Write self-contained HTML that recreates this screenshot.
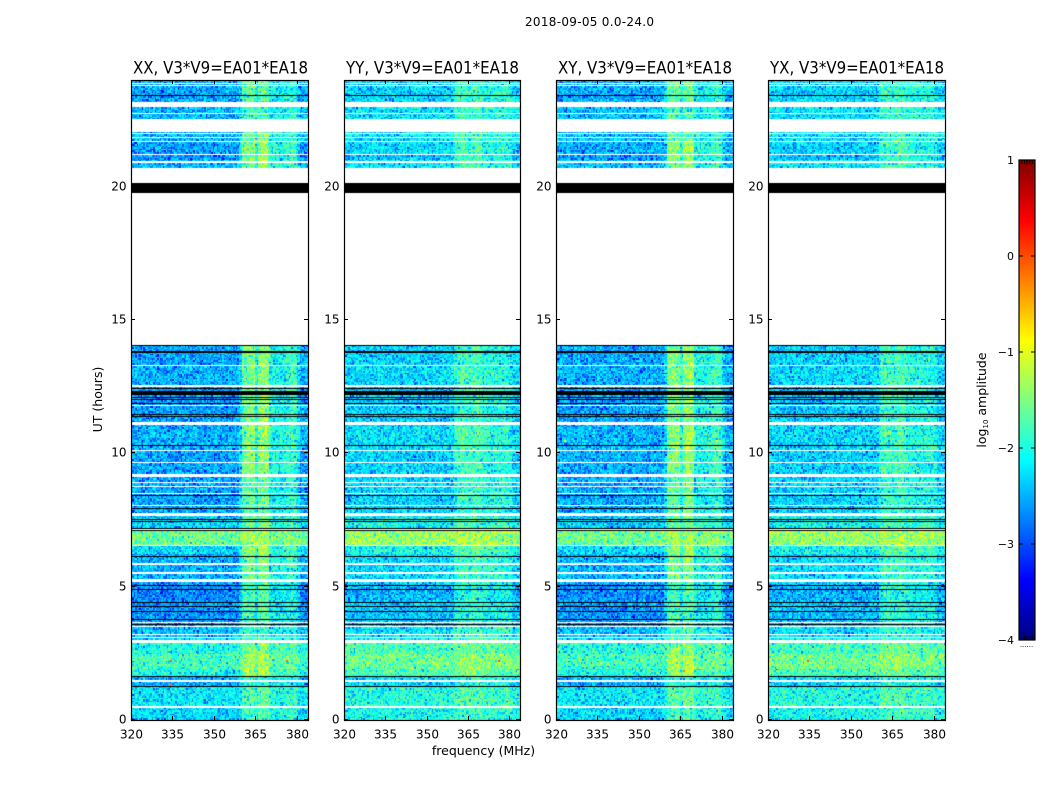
<!DOCTYPE html>
<html lang="en">
<head>
<meta charset="utf-8">
<title>2018-09-05 0.0-24.0</title>
<style>
html,body{margin:0;padding:0;background:#fff;}
#figure{position:relative;width:1050px;height:800px;overflow:hidden;background:#fff;font-family:"DejaVu Sans","Liberation Sans",sans-serif;}
canvas{position:absolute;display:block;}
svg{position:absolute;left:0;top:0;}
text{font-family:"DejaVu Sans","Liberation Sans",sans-serif;fill:#000;}
</style>
</head>
<body>
<div id="figure">
<svg id="overlay" width="1050" height="800" viewBox="0 0 1050 800">
  <text x="589.5" y="26" font-size="12" text-anchor="middle" textLength="129" lengthAdjust="spacing">2018-09-05 0.0-24.0</text>
  <text x="220.5" y="73.5" font-size="16.5" text-anchor="middle" textLength="175" lengthAdjust="spacingAndGlyphs">XX, V3*V9=EA01*EA18</text>
  <text x="432.5" y="73.5" font-size="16.5" text-anchor="middle" textLength="173" lengthAdjust="spacingAndGlyphs">YY, V3*V9=EA01*EA18</text>
  <text x="645" y="73.5" font-size="16.5" text-anchor="middle" textLength="174" lengthAdjust="spacingAndGlyphs">XY, V3*V9=EA01*EA18</text>
  <text x="857" y="73.5" font-size="16.5" text-anchor="middle" textLength="174" lengthAdjust="spacingAndGlyphs">YX, V3*V9=EA01*EA18</text>
  <text transform="translate(102,399.5) rotate(-90)" font-size="12.5" text-anchor="middle">UT (hours)</text>
  <text x="483.5" y="755" font-size="12.5" text-anchor="middle">frequency (MHz)</text>
  <text transform="translate(986,400) rotate(-90)" font-size="12.5" text-anchor="middle">log<tspan font-size="7" dy="2">10</tspan><tspan dy="-2"> amplitude</tspan></text>
  <text x="1026.5" y="647" font-size="7" text-anchor="middle" fill="#555">......</text>
</svg>
</div>
<script>
/* ---- chart data (UT hours, MHz, log10 amplitude) ---- */
const panelNames = ['xx', 'yy', 'xy', 'yx'];
const panelOffsets = [0, 0.24, 0.02, 0.22];
const xTickLabels = [320, 335, 350, 365, 380];
const yTickLabels = [0, 5, 10, 15, 20];
const colorbarTickLabels = [1, 0, -1, -2, -3, -4];

/* time bands: start hour, base level, interference strength */
const bandStarts = [0, 0.53, 1.26, 1.63, 1.9, 2.45, 2.9, 3.1, 3.6, 4.5, 5.05, 5.3, 5.9, 6.25, 6.56, 7.11, 7.55, 7.75, 8.5, 9.2, 10.1, 11.2, 12, 12.6, 13.3, 20.7, 21, 21.25, 21.7, 22.5, 23.2];
const bandLevels = [-2.3, -2.2, -2.5, -2.0, -1.8, -2.0, -2.35, -2.45, -2.65, -2.72, -2.6, -2.5, -2.5, -2.25, -1.6, -2.3, -2.4, -2.55, -2.55, -2.55, -2.5, -2.6, -2.6, -2.5, -2.55, -2.45, -2.65, -2.55, -2.45, -2.45, -2.55];
const bandInterference = [0.6, 0.7, 0.5, 1, 1, 0.9, 0.7, 0.6, 0.7, 0.7, 0.7, 0.85, 0.9, 1, 0.8, 0.8, 0.8, 0.8, 0.8, 0.95, 1, 0.95, 0.95, 0.95, 0.95, 0.95, 1, 1, 0.8, 0.65, 0.8];

/* spectral excess per 1 MHz channel, 320-383 MHz */
const spectrumCross = [0,0,0,0,0,0,0,0,0,0,0,0,0,0,0,0,0,0,0,0,0,0,0,0,0,0,0,0,0,0,0,0,0,0,0,0,0,0,0,0.05,1.1,1.15,1.2,1.25,1.25,0.6,1.25,1.35,1.35,1.3,0.55,0.55,0.5,0.45,0.5,0.55,0.7,0.8,0.85,0.7,0.15,0,0,0];
const spectrumParallel = [0,0,0,0,0,0,0,0,0,0,0,0,0,0,0,0,0,0,0,0,0,0,0,0,0,0,0,0,0,0,0,0,0,0,0,0,0,0,0,0,0.3,0.42,0.55,0.55,0.5,0.35,0.5,0.6,0.6,0.55,0.3,0.25,0.2,0.2,0.2,0.2,0.25,0.25,0.25,0.2,0.05,0,0,0];
const panelSpectra = [spectrumCross, spectrumParallel, spectrumCross, spectrumParallel];

/* unsampled intervals (white), UT hours */
const gapStarts = [0.45,1.44,2.87,2.94,3.08,3.17,3.47,3.62,5.19,5.49,5.83,6.51,7.13,7.64,8.02,8.48,8.72,8.87,9.13,9.64,10.09,11.08,11.78,12.47,12.53,13.27,14.04,20.15,20.87,21.19,21.67,21.83,21.97,22.05,22.71,23.0,23.77,23.84];
const gapEnds = [0.53,1.49,2.92,3.0,3.13,3.22,3.52,3.68,5.29,5.55,5.89,6.56,7.17,7.76,8.06,8.53,8.79,8.93,9.24,9.69,10.14,11.19,11.82,12.53,12.58,13.33,19.75,20.7,20.95,21.24,21.72,21.88,22.0,22.52,22.75,23.19,23.82,23.88];

/* zero-amplitude intervals (black), UT hours */
const zeroStarts = [1.25,1.62,3.57,3.76,4.05,4.25,4.39,4.88,5.03,6.12,7.1,7.17,7.44,7.51,7.91,8.41,10.26,11.36,11.43,11.85,11.99,12.09,12.2,12.41,13.78,14.03,19.75,23.41];
const zeroEnds = [1.29,1.66,3.61,3.8,4.09,4.29,4.43,4.92,5.07,6.16,7.14,7.21,7.48,7.55,7.95,8.45,10.3,11.4,11.47,11.89,12.03,12.13,12.33,12.45,13.82,14.07,20.15,23.45];

/* bright isolated cells */
const hotPanels = [0,0,0,0,0,1,1,1,2,2,2,2,3,3,3];
const hotHours = [7.48,7.48,2.23,2.23,1.3,2.23,7.48,7.48,10.47,10.47,1.85,7.48,2.23,7.48,1.85];
const hotFreqs = [334,349,334,376,334,376,334,368,323,378,366,361,334,350,366];
const hotLevels = [-0.1,-0.1,-0.1,-0.1,-0.2,-0.05,-0.2,-0.2,-0.9,-0.9,-0.3,-0.2,-0.1,-0.4,-0.6];

/* fine-grain texture table: illustrative speckle, not a per-cell reading */
const grainA = [0.22,-0.41,0.08,0.31,-0.63,0.15,-0.09,0.37,-0.24,0.05,0.28,-0.85,0.19,-0.17,0.33,0.02,-0.36,0.26,-0.06,0.12,-0.52,0.39,-0.13,0.07,0.24,-0.71,0.17,-0.28,0.35,0.03,-0.19,0.29,-0.44,0.11,0.21,-0.03,-0.58,0.34,0.09,-0.22,0.14,0.27,-0.95,0.18,-0.11,0.32,-0.31,0.06,0.25,-0.47];
const grainB = [0.11,-0.18,0.23,-0.05,0.16,-0.29,0.07,0.2,-0.12,0.01,-0.34,0.26,0.04,-0.08,0.17,-0.23,0.13,0.28,-0.15,0.09,-0.02,-0.38,0.19,0.06,-0.1,0.24,-0.27];
const grainScale = 0.8;
const interferenceReference = -2.7;

/* ---- layout and scales ---- */
const panelLefts = [131, 344, 556, 768];
const panelRights = [308, 520, 733, 945];
const plotTop = 80;
const plotBottom = 720;
const cellColumns = 128;
const cellRows = 400;
const freqMin = 320, freqMax = 384, hourMin = 0, hourMax = 24;
const cbarLeft = 1019, cbarRight = 1035, cbarTop = 160, cbarBottom = 640;
const levelMin = -4, levelMax = 1;

function xScale(p, f) { return panelLefts[p] + (f - freqMin) / (freqMax - freqMin) * (panelRights[p] - panelLefts[p]); }
function yScale(h) { return plotBottom - (h - hourMin) / (hourMax - hourMin) * (plotBottom - plotTop); }
function cbarScale(v) { return cbarBottom - (v - levelMin) / (levelMax - levelMin) * (cbarBottom - cbarTop); }
function clip(v) { return Math.max(0, Math.min(1, v)); }
function jet(level) {
  const t = clip((level - levelMin) / (levelMax - levelMin));
  const r = clip(1.5 - Math.abs(4 * t - 3));
  const g = clip(1.5 - Math.abs(4 * t - 2));
  const b = clip(1.5 - Math.abs(4 * t - 1));
  return 'rgb(' + Math.round(r * 255) + ',' + Math.round(g * 255) + ',' + Math.round(b * 255) + ')';
}
function bandIndexAt(h) {
  let k = 0;
  for (let i = 0; i < bandStarts.length; i++) { if (bandStarts[i] <= h) k = i; }
  return k;
}
function grainAt(c, r) {
  const mix = (((c + 1) * 73856093) ^ ((r + 1) * 19349663)) >>> 0;
  return grainScale * (grainA[(mix >>> 7) % grainA.length] + grainB[(mix >>> 15) % grainB.length]);
}
function addLog(a, b) { return Math.log10(Math.pow(10, a) + Math.pow(10, b)); }

const figure = document.getElementById('figure');
const overlay = document.getElementById('overlay');
const svgNS = 'http://www.w3.org/2000/svg';

function svgLine(x1, y1, x2, y2, width, color) {
  const el = document.createElementNS(svgNS, 'line');
  el.setAttribute('x1', x1);
  el.setAttribute('y1', y1);
  el.setAttribute('x2', x2);
  el.setAttribute('y2', y2);
  el.setAttribute('stroke', color);
  el.setAttribute('stroke-width', width);
  overlay.appendChild(el);
  return el;
}
function svgText(x, y, str, anchor, size) {
  const el = document.createElementNS(svgNS, 'text');
  el.setAttribute('x', x);
  el.setAttribute('y', y);
  el.setAttribute('text-anchor', anchor);
  el.setAttribute('font-size', size);
  el.textContent = str;
  overlay.appendChild(el);
  return el;
}

/* ---- heatmaps ---- */
panelNames.forEach(function (name, p) {
  const left = panelLefts[p], width = panelRights[p] - left, height = plotBottom - plotTop;
  const cv = document.createElement('canvas');
  cv.width = width;
  cv.height = height;
  cv.style.left = left + 'px';
  cv.style.top = plotTop + 'px';
  
  
  figure.insertBefore(cv, overlay);
  const ctx = cv.getContext('2d');
  const df = (freqMax - freqMin) / cellColumns;
  const dh = (hourMax - hourMin) / cellRows;
  for (let r = 0; r < cellRows; r++) {
    const h0 = hourMin + r * dh, hc = h0 + dh / 2;
    if (hc > 14.05 && hc < 20.7) continue;
    const band = bandIndexAt(hc);
    const yA = Math.round(yScale(h0 + dh)) - plotTop, yB = Math.round(yScale(h0)) - plotTop;
    for (let c = 0; c < cellColumns; c++) {
      const f0 = freqMin + c * df, fc = f0 + df / 2;
      const chan = Math.min(63, Math.floor(fc - freqMin));
      const base = bandLevels[band] + panelOffsets[p];
      const excess = panelSpectra[p][chan];
      const rfi = interferenceReference + panelOffsets[p] + excess * bandInterference[band];
      const mean = excess > 0 ? addLog(base, rfi) : base;
      const level = mean + grainAt(c + p * 41, r + p * 11);
      const xA = Math.round(xScale(p, f0)) - left, xB = Math.round(xScale(p, f0 + df)) - left;
      ctx.fillStyle = jet(level);
      ctx.fillRect(xA, yA, xB - xA, yB - yA);
    }
  }
  hotHours.forEach(function (h, i) {
    if (hotPanels[i] !== p) return;
    ctx.fillStyle = jet(hotLevels[i]);
    ctx.fillRect(Math.round(xScale(p, hotFreqs[i])) - left, Math.round(yScale(h)) - plotTop - 1, 2, 2);
  });
  function flagRect(hLow, hHigh) {
    const yA = Math.round(yScale(hHigh)) - plotTop;
    const yB = Math.round(yScale(hLow)) - plotTop;
    ctx.fillRect(0, yA, width, Math.max(1, yB - yA));
  }
  ctx.fillStyle = '#fff';
  gapStarts.forEach(function (h, i) { flagRect(h, gapEnds[i]); });
  ctx.fillStyle = '#000';
  zeroStarts.forEach(function (h, i) { flagRect(h, zeroEnds[i]); });

  /* frame */
  const frame = document.createElementNS(svgNS, 'rect');
  frame.setAttribute('x', left + 0.5);
  frame.setAttribute('y', plotTop + 0.5);
  frame.setAttribute('width', width);
  frame.setAttribute('height', height);
  frame.setAttribute('fill', 'none');
  frame.setAttribute('stroke', '#000');
  frame.setAttribute('stroke-width', '1.2');
  
  
  overlay.appendChild(frame);

  /* x ticks */
  xTickLabels.forEach(function (t) {
    const x = Math.round(xScale(p, t)) + 0.5;
    const tb = svgLine(x, plotBottom, x, plotBottom - 4, 1, '#000');
    
    
    const tt = svgLine(x, plotTop, x, plotTop + 4, 1, '#000');
    
    
    const lb = svgText(x, plotBottom + 18.5, String(t), 'middle', 12);
    
    
  });
  /* y ticks */
  yTickLabels.forEach(function (t) {
    const y = Math.round(yScale(t)) - 0.5;
    const tl = svgLine(left, y, left + 4, y, 1, '#000');
    
    
    const tr = svgLine(left + width - 4, y, left + width, y, 1, '#000');
    
    
    const lb = svgText(left - 4.5, y + 4, String(t), 'end', 12);
    
    
  });
});

/* ---- colorbar ---- */
const cbarCanvas = document.createElement('canvas');
cbarCanvas.width = cbarRight - cbarLeft;
cbarCanvas.height = cbarBottom - cbarTop;
cbarCanvas.style.left = cbarLeft + 'px';
cbarCanvas.style.top = cbarTop + 'px';


figure.insertBefore(cbarCanvas, overlay);
const cbarCtx = cbarCanvas.getContext('2d');
for (let py = 0; py < cbarCanvas.height; py++) {
  const v = levelMax - (py + 0.5) / cbarCanvas.height * (levelMax - levelMin);
  cbarCtx.fillStyle = jet(v);
  cbarCtx.fillRect(0, py, cbarCanvas.width, 1);
}
const cbarFrame = document.createElementNS(svgNS, 'rect');
cbarFrame.setAttribute('x', cbarLeft);
cbarFrame.setAttribute('y', cbarTop);
cbarFrame.setAttribute('width', cbarRight - cbarLeft);
cbarFrame.setAttribute('height', cbarBottom - cbarTop);
cbarFrame.setAttribute('fill', 'none');
cbarFrame.setAttribute('stroke', '#000');
cbarFrame.setAttribute('stroke-width', '1.2');


overlay.appendChild(cbarFrame);
colorbarTickLabels.forEach(function (v) {
  const y = cbarScale(v);
  const t1 = svgLine(cbarLeft, y, cbarLeft + 4, y, 1, '#000');
  
  
  const t2 = svgLine(cbarRight - 4, y, cbarRight, y, 1, '#000');
  
  
  const label = (v < 0 ? '\u2212' + Math.abs(v) : String(v));
  const lb = svgText(1014, y + 4, label, 'end', 11);
  
  
});
for (let k = 1; k < 6; k++) {
  const x = cbarLeft + k * (cbarRight - cbarLeft) / 6;
  const m1 = svgLine(x, cbarTop, x, cbarTop + 4, 1, '#000');
  
  
  const m2 = svgLine(x, cbarBottom - 4, x, cbarBottom, 1, '#000');
  
  
}
</script>
</body>
</html>
